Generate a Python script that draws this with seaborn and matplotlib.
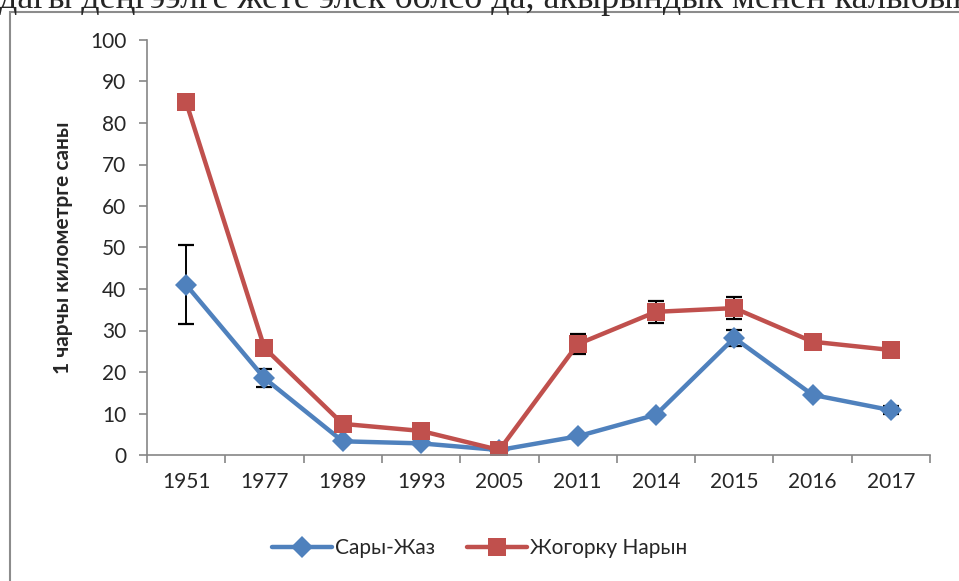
import numpy as np
import pandas as pd
import matplotlib.pyplot as plt
import seaborn as sns
from matplotlib.patches import Rectangle

# data
years = ["1951", "1977", "1989", "1993", "2005", "2011", "2014", "2015", "2016", "2017"]
sary_jaz = [41.0, 18.5, 3.3, 2.8, 1.2, 4.5, 9.7, 28.2, 14.5, 10.8]
jogorku_naryn = [85.0, 25.8, 7.5, 5.8, 1.2, 26.7, 34.5, 35.4, 27.3, 25.3]
sary_jaz_err = [9.5, 2.2, 0, 0, 0, 0, 0, 2.0, 0, 1.0]
jogorku_naryn_err = [0, 0, 0, 0, 0, 2.4, 2.7, 2.6, 0, 0]

names = ["Сары-Жаз", "Жогорку Нарын"]
colors = {"Сары-Жаз": "#4F81BD", "Жогорку Нарын": "#C0504D"}

df = pd.DataFrame({
    "pos": list(range(len(years))) * 2,
    "value": sary_jaz + jogorku_naryn,
    "series": [names[0]] * len(years) + [names[1]] * len(years),
})

sns.set_style("white")
plt.rcParams["font.family"] = ["Lato", "DejaVu Sans"]

fig = plt.figure(figsize=(9.59, 5.81), dpi=100)
ax = fig.add_axes([147 / 959, 1 - 455 / 581, (930 - 147) / 959, (455 - 40) / 581])

# error bars (behind the lines)
for vals, errs in [(sary_jaz, sary_jaz_err), (jogorku_naryn, jogorku_naryn_err)]:
    vals = np.array(vals)
    errs = np.array(errs)
    idx = np.nonzero(errs)[0]
    ax.errorbar(idx, vals[idx], yerr=errs[idx], fmt="none", ecolor="black",
                elinewidth=1.4, capsize=6, capthick=1.6, zorder=1)

sns.lineplot(data=df, x="pos", y="value", hue="series", style="series",
             hue_order=names, style_order=names, palette=colors,
             markers={names[0]: "D", names[1]: "s"}, dashes=False,
             linewidth=3.2, markersize=11, markeredgewidth=0, sort=False,
             ax=ax, zorder=2)
for line in ax.lines:
    if line.get_marker() == "s":
        line.set_markersize(13)

ax.set_xlim(-0.5, len(years) - 0.5)
ax.set_ylim(0, 100)
ax.set_yticks(range(0, 101, 10))
ax.set_xticks(range(len(years)))
ax.set_xticklabels(years)
ax.set_xticks(np.arange(-0.5, len(years), 1), minor=True)
ax.tick_params(axis="x", which="major", length=0, pad=12, labelsize=15)
ax.tick_params(axis="x", which="minor", length=6, width=1.2, color="#868686", direction="out")
ax.tick_params(axis="y", length=6, width=1.2, color="#868686", direction="out", pad=9, labelsize=15)
ax.tick_params(axis="y", which="both", left=True)
ax.tick_params(axis="x", which="minor", bottom=True)

for side in ["top", "right"]:
    ax.spines[side].set_visible(False)
for side in ["left", "bottom"]:
    ax.spines[side].set_color("#868686")
    ax.spines[side].set_linewidth(1.2)

ax.set_xlabel("")
ax.set_ylabel("1 чарчы километрге саны", fontsize=15, fontweight="bold", labelpad=12)

handles, labels = ax.get_legend_handles_labels()
ax.get_legend().remove()
fig.legend(handles, labels, loc="center", bbox_to_anchor=(0.5, 1 - 548 / 581), ncol=2,
           frameon=False, fontsize=15, handlelength=2.9, columnspacing=1.5,
           handletextpad=0.15)

# chart frame and clipped document text above it (cut off in the reference too)
fig.patches.append(Rectangle((10 / 959, -0.1), 1.2, 1.1 - 12 / 581, transform=fig.transFigure,
                             fill=False, edgecolor="#8c8c8c", linewidth=1.5))
fig.text(-0.001, 1 - 7.5 / 581, "дагы деңгээлге жете элек болсо да, акырындык менен калыбына",
         fontsize=26, family=["Liberation Serif", "DejaVu Serif"], va="baseline", ha="left")

fig.savefig("out.png", dpi=100)
